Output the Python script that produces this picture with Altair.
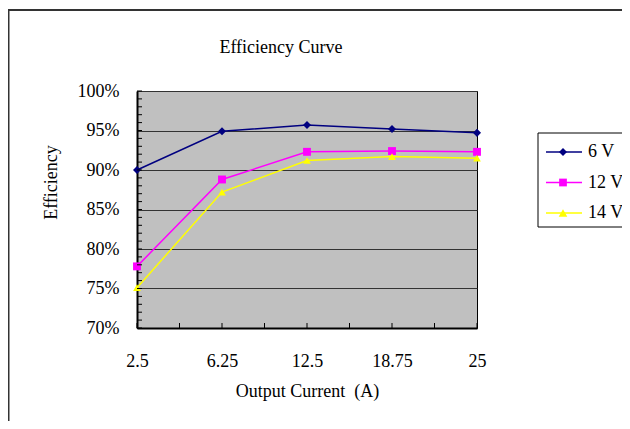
import json
import altair as alt
import pandas as pd

# ---- data ----
currents = ["2.5", "6.25", "12.5", "18.75", "25"]
series = ["6 V", "12 V", "14 V"]
eff_6v = [0.900, 0.949, 0.957, 0.952, 0.947]
eff_12v = [0.778, 0.888, 0.923, 0.924, 0.923]
eff_14v = [0.751, 0.872, 0.912, 0.917, 0.915]
colors = ["#000080", "#FF00FF", "#FFFF00"]
shapes = ["diamond", "square", "triangle-up"]
marker_sizes = [65, 60, 75]
y_major = [0.70, 0.75, 0.80, 0.85, 0.90, 0.95, 1.00]
y_minor = [v / 100 for v in range(70, 101)]
x_ticks = [i / 2 for i in range(0, 9)]

rows = []
for s, vals in zip(series, [eff_6v, eff_12v, eff_14v]):
    for i, (c, v) in enumerate(zip(currents, vals)):
        rows.append({"series": s, "current": c, "idx": i, "eff": v})
df = pd.DataFrame(rows)

FONT = "Liberation Serif"
W, H = 340, 237

xscale = alt.Scale(domain=[0, len(currents) - 1], nice=False, zero=False)
yscale = alt.Scale(domain=[0.70, 1.00], nice=False, zero=False)
color_scale = alt.Scale(domain=series, range=colors)
shape_scale = alt.Scale(domain=series, range=shapes)
size_scale = alt.Scale(domain=series, range=marker_sizes)

label_expr = json.dumps(currents) + "[round(datum.value)]"

x_axis = alt.Axis(
    values=list(range(len(currents))), labelExpr=label_expr,
    title="Output Current\u00a0 (A)", grid=False, ticks=False, tickSize=0,
    labelPadding=38, labelBaseline="alphabetic", labelFontSize=18, labelFont=FONT,
    labelColor="black", labelFlush=False, labelOverlap=False,
    domainColor="black", domainWidth=2,
    titleFont=FONT, titleFontSize=18, titleFontWeight="normal", titleColor="black",
    titleY=68, titleBaseline="alphabetic",
)
y_axis = alt.Axis(
    values=y_major, format=".0%", grid=True, gridColor="#333333", gridWidth=1,
    ticks=False, tickSize=0, labelPadding=18, labelFontSize=18, labelFont=FONT,
    labelColor="black", labelFlush=False, labelOverlap=False,
    domainColor="black", domainWidth=2,
    title="Efficiency", titleFont=FONT, titleFontSize=18, titleFontWeight="normal",
    titleColor="black", titleX=-86, titleY=91, titleAngle=270,
    titleAlign="center", titleBaseline="middle",
)

one = pd.DataFrame({"a": [0]})

frame = alt.Chart(one).mark_rect(fill="white", fillOpacity=0, stroke="#333333", strokeWidth=2).encode(
    x=alt.value(-128.5), x2=alt.value(700), y=alt.value(-81), y2=alt.value(600)
)

base = alt.Chart(df)
lines = base.mark_line(strokeWidth=1.5).encode(
    x=alt.X("idx:Q", scale=xscale, axis=x_axis),
    y=alt.Y("eff:Q", scale=yscale, axis=y_axis),
    color=alt.Color("series:N", scale=color_scale, legend=None),
    order="idx:Q",
)
points = base.mark_point(filled=True, opacity=1).encode(
    x=alt.X("idx:Q", scale=xscale, axis=x_axis),
    y=alt.Y("eff:Q", scale=yscale, axis=y_axis),
    color=alt.Color("series:N", scale=color_scale, legend=None),
    shape=alt.Shape("series:N", scale=shape_scale, legend=None),
    size=alt.Size("series:N", scale=size_scale, legend=None),
)
y_ticks = alt.Chart(pd.DataFrame({"eff": y_minor})).mark_rule(color="black", strokeWidth=1).encode(
    y=alt.Y("eff:Q", scale=yscale, axis=y_axis),
    x=alt.value(0), x2=alt.value(5),
)
x_tick_marks = alt.Chart(pd.DataFrame({"idx": x_ticks})).mark_rule(color="black", strokeWidth=1).encode(
    x=alt.X("idx:Q", scale=xscale, axis=x_axis),
    y=alt.value(H - 5), y2=alt.value(H),
)

title_mark = alt.Chart(one).mark_text(
    text="Efficiency Curve", font=FONT, fontSize=18, color="black", align="center", baseline="alphabetic"
).encode(x=alt.value(144), y=alt.value(-38))

# legend drawn as marks
leg_layers = [
    alt.Chart(one).mark_rect(fill="white", stroke="black", strokeWidth=1).encode(
        x=alt.value(401), x2=alt.value(700), y=alt.value(42), y2=alt.value(136)
    )
]
for i, (s, c, sh, sz) in enumerate(zip(series, colors, shapes, marker_sizes)):
    yy = 61 + 30.5 * i
    leg_layers.append(alt.Chart(one).mark_rule(color=c, strokeWidth=1.5).encode(
        x=alt.value(409), x2=alt.value(445), y=alt.value(yy)))
    leg_layers.append(alt.Chart(one).mark_point(filled=True, size=sz, opacity=1, color=c, shape=sh).encode(
        x=alt.value(426), y=alt.value(yy)))
    leg_layers.append(alt.Chart(one).mark_text(text=s, align="left", baseline="middle", font=FONT,
                                               fontSize=18, color="black").encode(
        x=alt.value(451), y=alt.value(yy)))

chart = alt.layer(frame, lines, points, y_ticks, x_tick_marks, title_mark, *leg_layers).properties(
    width=W, height=H,
    autosize=alt.AutoSizeParams(type="none"),
    padding={"left": 129, "top": 83, "right": 145, "bottom": 93},
).configure_view(fill="#C0C0C0", stroke="black", strokeWidth=1)

chart.save("out.html", embed_options={"renderer": "svg", "actions": False})
